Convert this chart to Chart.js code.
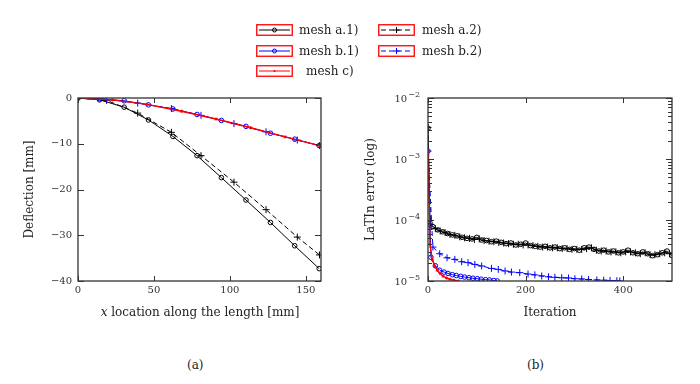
<!DOCTYPE html>
<html>
<head>
<meta charset="utf-8">
<script src="https://cdn.jsdelivr.net/npm/chart.js@4/dist/chart.umd.min.js"></script>
<style>
  body { margin: 0; width: 700px; height: 384px; background: #fff; position: relative; overflow: hidden;
         font-family: "DejaVu Serif", serif; color: #222; }
  canvas { position: absolute; top: 0; }
  #chartA { left: 0; }
  #chartB { left: 350px; }
  .leg { position: absolute; font-size: 12px; line-height: 14px; white-space: nowrap; }
  .leg svg { position: absolute; left: 0; top: 0; }
  .leg span { position: absolute; top: -1px; }
  .cap { position: absolute; font-size: 12px; top: 358px; }
  #xtitleA { position: absolute; top: 305px; left: 60px; width: 280px; text-align: center; font-size: 12px; }
</style>
</head>
<body>
<canvas id="chartA" width="340" height="330"></canvas>
<canvas id="chartB" width="350" height="330"></canvas>

<div class="leg" style="left:256px; top:24px;">
  <svg width="37" height="12"><rect x="0.75" y="0.75" width="35.5" height="10.5" fill="none" stroke="#f00" stroke-width="1.3"/>
    <line x1="3" y1="6" x2="34" y2="6" stroke="#000" stroke-width="1"/><circle cx="18.5" cy="6" r="2" fill="none" stroke="#000" stroke-width="1"/></svg>
  <span style="left:43px">mesh a.1)</span>
</div>
<div class="leg" style="left:378px; top:24px;">
  <svg width="37" height="12"><rect x="0.75" y="0.75" width="35.5" height="10.5" fill="none" stroke="#f00" stroke-width="1.3"/>
    <line x1="3" y1="6" x2="34" y2="6" stroke="#000" stroke-width="1" stroke-dasharray="5,3"/><path d="M15.5 6H21.5M18.5 3V9" stroke="#000" stroke-width="1"/></svg>
  <span style="left:44px">mesh a.2)</span>
</div>
<div class="leg" style="left:256px; top:45px;">
  <svg width="37" height="12"><rect x="0.75" y="0.75" width="35.5" height="10.5" fill="none" stroke="#f00" stroke-width="1.3"/>
    <line x1="3" y1="6" x2="34" y2="6" stroke="#00f" stroke-width="1"/><circle cx="18.5" cy="6" r="2" fill="none" stroke="#00f" stroke-width="1"/></svg>
  <span style="left:43px">mesh b.1)</span>
</div>
<div class="leg" style="left:378px; top:45px;">
  <svg width="37" height="12"><rect x="0.75" y="0.75" width="35.5" height="10.5" fill="none" stroke="#f00" stroke-width="1.3"/>
    <line x1="3" y1="6" x2="34" y2="6" stroke="#00f" stroke-width="1" stroke-dasharray="5,3"/><path d="M15.5 6H21.5M18.5 3V9" stroke="#00f" stroke-width="1"/></svg>
  <span style="left:44px">mesh b.2)</span>
</div>
<div class="leg" style="left:256px; top:65px;">
  <svg width="37" height="12"><rect x="0.75" y="0.75" width="35.5" height="10.5" fill="none" stroke="#f00" stroke-width="1.3"/>
    <line x1="3" y1="6" x2="34" y2="6" stroke="#f00" stroke-width="1"/><circle cx="18.5" cy="6" r="1" fill="#f00"/></svg>
  <span style="left:50px">mesh c)</span>
</div>

<div id="xtitleA"><i>x</i> location along the length [mm]</div>
<div class="cap" style="left:187px;">(a)</div>
<div class="cap" style="left:527px;">(b)</div>

<script>
// --- (a) deflection along the length ---
const xA1 = [0, 14.2, 30.4, 46.4, 62.5, 78.4, 94.4, 110.6, 126.7, 142.7, 158.8];
const yA1 = [0, -0.4, -2.0, -4.8, -8.4, -12.6, -17.4, -22.3, -27.2, -32.3, -37.3];
const xA2 = [0, 18.8, 39.3, 61.5, 81, 102.7, 123.8, 144.4, 159];
const yA2 = [0, -0.5, -3.3, -7.5, -12.6, -18.4, -24.4, -30.4, -34.3];
const xB1 = [0, 14.2, 30.4, 46.4, 62.5, 78.4, 94.4, 110.6, 126.7, 142.7, 158.8];
const yB1 = [0, -0.15, -0.6, -1.5, -2.4, -3.6, -4.9, -6.2, -7.7, -9.0, -10.4];
const xB2 = [0, 18.8, 39.3, 61.5, 81, 102.7, 123.8, 144.4, 159];
const yB2 = [0, -0.3, -1.1, -2.3, -3.8, -5.6, -7.4, -9.2, -10.4];
const xC = [0, 22.7, 45.4, 68.1, 90.9, 113.6, 136.3, 159];
const yC = [0, -0.4, -1.4, -2.9, -4.6, -6.5, -8.5, -10.4];
const ticksXA = [0, 50, 100, 150];
const ticksYA = [0, -10, -20, -30, -40];

// --- (b) LaTIn error vs iteration ---
const itA1 = [0, 4, 10, 20, 30, 40, 50, 60, 70, 80, 90, 100, 110, 120, 130, 140, 150, 160, 170, 180, 190, 200,
  210, 220, 230, 240, 250, 260, 270, 280, 290, 300, 310, 320, 330, 340, 350, 360, 370, 380, 390, 400,
  410, 420, 430, 440, 450, 460, 470, 480, 490, 500];
const errA1 = [3.2e-3, 9.0e-5, 7.8e-5, 6.9e-5, 6.4e-5, 6.0e-5, 5.7e-5, 5.5e-5, 5.2e-5, 5.0e-5, 4.9e-5, 5.2e-5,
  4.7e-5, 4.6e-5, 4.4e-5, 4.5e-5, 4.3e-5, 4.1e-5, 4.2e-5, 3.9e-5, 4.0e-5, 4.2e-5,
  3.8e-5, 3.7e-5, 3.6e-5, 3.7e-5, 3.5e-5, 3.6e-5, 3.4e-5, 3.5e-5, 3.3e-5, 3.4e-5,
  3.2e-5, 3.5e-5, 3.6e-5, 3.3e-5, 3.1e-5, 3.2e-5, 3.0e-5, 3.1e-5, 2.9e-5, 3.0e-5,
  3.2e-5, 2.9e-5, 2.8e-5, 3.0e-5, 2.8e-5, 2.6e-5, 2.7e-5, 2.9e-5, 3.1e-5, 2.6e-5];
const itA2 = [0, 5, 15, 25, 35, 45, 55, 65, 75, 85, 95, 105, 115, 125, 135, 145, 155, 165, 175, 185, 195,
  205, 215, 225, 235, 245, 255, 265, 275, 285, 295, 305, 315, 325, 335, 345, 355, 365, 375, 385, 395,
  405, 415, 425, 435, 445, 455, 465, 475, 485, 495];
const errA2 = [3.3e-3, 8.5e-5, 7.2e-5, 6.6e-5, 6.2e-5, 5.8e-5, 5.6e-5, 5.3e-5, 5.1e-5, 5.0e-5, 4.8e-5,
  4.9e-5, 4.6e-5, 4.5e-5, 4.4e-5, 4.3e-5, 4.2e-5, 4.1e-5, 4.0e-5, 4.0e-5, 3.9e-5,
  3.9e-5, 3.8e-5, 3.7e-5, 3.6e-5, 3.6e-5, 3.5e-5, 3.5e-5, 3.4e-5, 3.4e-5, 3.3e-5,
  3.3e-5, 3.3e-5, 3.4e-5, 3.5e-5, 3.2e-5, 3.1e-5, 3.1e-5, 3.0e-5, 3.0e-5, 2.9e-5,
  3.0e-5, 3.0e-5, 2.9e-5, 2.8e-5, 2.9e-5, 2.7e-5, 2.7e-5, 2.8e-5, 2.9e-5, 2.8e-5];
const itB1 = [0, 6, 15, 24, 33, 41, 50, 58, 67, 75, 84, 92, 101, 109, 118, 126, 135, 142];
const errB1 = [1.35e-3, 2.45e-5, 1.78e-5, 1.5e-5, 1.4e-5, 1.33e-5, 1.27e-5, 1.23e-5, 1.19e-5, 1.16e-5,
  1.13e-5, 1.11e-5, 1.09e-5, 1.07e-5, 1.05e-5, 1.04e-5, 1.02e-5, 1.0e-5];
const itB2 = [0, 10, 24, 39, 55, 69, 82, 96, 110, 130, 144, 158, 171, 188, 205, 219, 233, 247, 260, 274,
  288, 301, 315, 329, 346, 360, 373, 387, 393];
const errB2 = [1.35e-3, 3.6e-5, 2.8e-5, 2.4e-5, 2.26e-5, 2.07e-5, 2.0e-5, 1.87e-5, 1.76e-5, 1.61e-5,
  1.55e-5, 1.46e-5, 1.4e-5, 1.37e-5, 1.3e-5, 1.26e-5, 1.21e-5, 1.17e-5, 1.15e-5, 1.13e-5,
  1.12e-5, 1.09e-5, 1.08e-5, 1.06e-5, 1.04e-5, 1.03e-5, 1.02e-5, 1.01e-5, 1.0e-5];
const itC = [0, 4, 9, 14, 19, 25, 31, 38, 45, 53, 62];
const errC = [1.35e-3, 4.0e-5, 2.2e-5, 1.75e-5, 1.5e-5, 1.33e-5, 1.2e-5, 1.12e-5, 1.07e-5, 1.03e-5, 1.0e-5];
const ticksXB = [0, 200, 400];
const ticksYB = [1e-5, 1e-4, 1e-3, 1e-2];

function pts(xs, ys) {
  return xs.map((x, i) => ({ x: x, y: ys[i] }));
}

// frame + inward ticks like pgfplots, and 10^k labels for the log axis
const frameTicks = {
  id: 'frameTicks',
  afterDraw(chart, args, opts) {
    const { ctx, chartArea: a, scales } = chart;
    ctx.save();
    ctx.strokeStyle = '#333';
    ctx.lineWidth = 1;
    ctx.beginPath();
    scales.x.ticks.forEach(t => {
      const p = Math.round(scales.x.getPixelForValue(t.value)) + 0.5;
      ctx.moveTo(p, a.bottom); ctx.lineTo(p, a.bottom - 5);
      ctx.moveTo(p, a.top); ctx.lineTo(p, a.top + 5);
    });
    scales.y.ticks.forEach(t => {
      const p = Math.round(scales.y.getPixelForValue(t.value)) + 0.5;
      ctx.moveTo(a.left, p); ctx.lineTo(a.left + 6, p);
      ctx.moveTo(a.right, p); ctx.lineTo(a.right - 6, p);
    });
    (opts.minorY || []).forEach(v => {
      const p = Math.round(scales.y.getPixelForValue(v)) + 0.5;
      ctx.moveTo(a.left, p); ctx.lineTo(a.left + 4, p);
      ctx.moveTo(a.right, p); ctx.lineTo(a.right - 4, p);
    });
    ctx.stroke();
    ctx.lineWidth = 1.3;
    ctx.strokeRect(a.left, a.top, a.right - a.left, a.bottom - a.top);

    if (opts.logLabels) {
      ctx.fillStyle = '#333';
      ctx.textBaseline = 'middle';
      scales.y.ticks.forEach(t => {
        const p = scales.y.getPixelForValue(t.value);
        const exp = '\u2212' + Math.abs(Math.round(Math.log10(t.value)));
        ctx.font = '8px "DejaVu Serif"';
        ctx.textAlign = 'right';
        const ew = ctx.measureText(exp).width;
        const xr = a.left - 8;
        ctx.fillText(exp, xr, p - 3);
        ctx.font = '10px "DejaVu Serif"';
        ctx.fillText('10', xr - ew - 1, p + 1.5);
      });
    }
    ctx.restore();
  }
};

const tickFont = { family: 'DejaVu Serif', size: 10 };
const titleFont = { family: 'DejaVu Serif', size: 12 };

function series(label, data, color, style, dashed, order, width) {
  return {
    label: label,
    data: data,
    borderColor: color,
    backgroundColor: 'rgba(0,0,0,0)',
    pointBorderColor: color,
    pointBackgroundColor: style === 'star' ? color : 'rgba(0,0,0,0)',
    pointStyle: style,
    pointRadius: style === 'cross' ? 3.5 : (style === 'star' ? 1.6 : 2.3),
    pointBorderWidth: 1,
    borderWidth: width || 1,
    borderDash: dashed ? [5, 3] : [],
    tension: 0,
    order: order
  };
}

// chart (a)
new Chart(document.getElementById('chartA'), {
  type: 'line',
  data: {
    datasets: [
      series('mesh a.1)', pts(xA1, yA1), '#000', 'circle', false, 4),
      series('mesh a.2)', pts(xA2, yA2), '#000', 'cross', true, 3),
      series('mesh b.1)', pts(xB1, yB1), '#00f', 'circle', false, 2),
      series('mesh b.2)', pts(xB2, yB2), '#00f', 'cross', true, 1),
      series('mesh c)', pts(xC, yC), '#f00', 'star', false, 0, 1.4)
    ]
  },
  options: {
    responsive: false,
    animation: false,
    layout: { padding: { top: 98, right: 19, left: 0, bottom: 0 } },
    plugins: { legend: { display: false }, tooltip: { enabled: false } },
    scales: {
      x: {
        type: 'linear', min: 0, max: 160,
        afterBuildTicks: s => { s.ticks = ticksXA.map(v => ({ value: v })); },
        afterFit: s => { s.height = 49; },
        grid: { display: false, drawTicks: false }, border: { display: false },
        ticks: { font: tickFont, color: '#333', padding: 3, maxRotation: 0 }
      },
      y: {
        type: 'linear', min: -40, max: 0,
        afterBuildTicks: s => { s.ticks = ticksYA.map(v => ({ value: v })); },
        afterFit: s => { s.width = 78; },
        grid: { display: false, drawTicks: false }, border: { display: false },
        ticks: { font: tickFont, color: '#333', padding: 6,
                 callback: v => v < 0 ? '\u2212' + Math.abs(v) : String(v) },
        title: { display: true, text: 'Deflection [mm]', font: titleFont, color: '#222', padding: { top: 23 } }
      }
    }
  },
  plugins: [frameTicks]
});

// chart (b)
const minorB = [];
[-5, -4, -3].forEach(k => { for (let m = 2; m <= 9; m++) minorB.push(m * Math.pow(10, k)); });

new Chart(document.getElementById('chartB'), {
  type: 'line',
  data: {
    datasets: [
      series('mesh a.1)', pts(itA1, errA1), '#000', 'circle', false, 4),
      series('mesh a.2)', pts(itA2, errA2), '#000', 'cross', true, 3),
      series('mesh b.1)', pts(itB1, errB1), '#00f', 'circle', false, 1),
      series('mesh b.2)', pts(itB2, errB2), '#00f', 'cross', true, 2),
      series('mesh c)', pts(itC, errC), '#f00', 'star', false, 0, 1.4)
    ]
  },
  options: {
    responsive: false,
    animation: false,
    layout: { padding: { top: 98, right: 28, left: 0, bottom: 0 } },
    plugins: { legend: { display: false }, tooltip: { enabled: false },
               frameTicks: { minorY: minorB, logLabels: true } },
    scales: {
      x: {
        type: 'linear', min: 0, max: 500,
        afterBuildTicks: s => { s.ticks = ticksXB.map(v => ({ value: v })); },
        afterFit: s => { s.height = 49; },
        grid: { display: false, drawTicks: false }, border: { display: false },
        ticks: { font: tickFont, color: '#333', padding: 3, maxRotation: 0 },
        title: { display: true, text: 'Iteration', font: titleFont, color: '#222', padding: { bottom: 10 } }
      },
      y: {
        type: 'logarithmic', min: 1e-5, max: 1e-2,
        afterBuildTicks: s => { s.ticks = ticksYB.map(v => ({ value: v })); },
        afterFit: s => { s.width = 78; },
        grid: { display: false, drawTicks: false }, border: { display: false },
        ticks: { font: tickFont, color: 'rgba(0,0,0,0)', padding: 8, callback: () => '' },
        title: { display: true, text: 'LaTIn error (log)', font: titleFont, color: '#222', padding: { top: 14 } }
      }
    }
  },
  plugins: [frameTicks]
});
</script>
</body>
</html>
